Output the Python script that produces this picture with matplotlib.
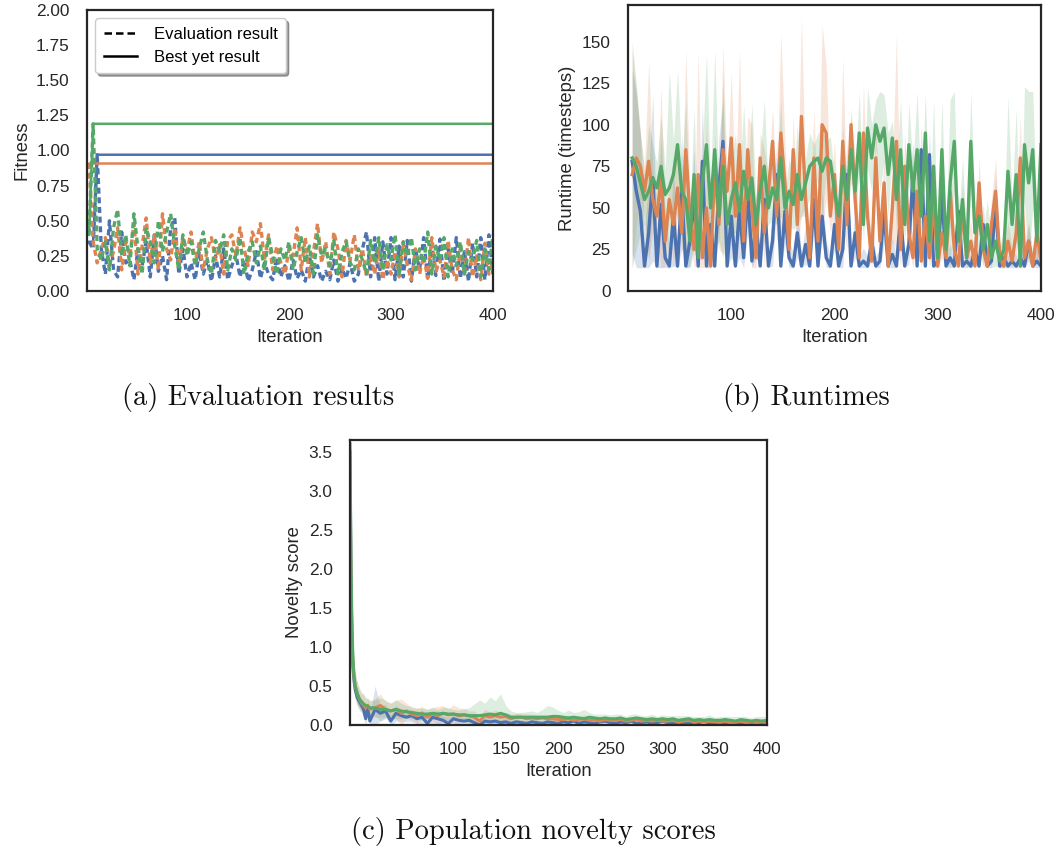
import matplotlib
matplotlib.use("Agg")
import matplotlib.pyplot as plt
from matplotlib.lines import Line2D
import numpy as np

plt.rcParams['font.family'] = ['Liberation Sans', 'DejaVu Sans']

BLUE, ORANGE, GREEN = '#4C72B0', '#DD8452', '#55A868'
INK = '#262626'

# ---- (a) evaluation results, every 4th iteration ----
eval_iters = np.arange(4, 401, 4)
blue_eval = [
    0.35, 0.30, 0.97, 0.30, 0.12, 0.50, 0.15, 0.10, 0.42, 0.20, 0.22, 0.08, 0.30,
    0.18, 0.35, 0.10, 0.40, 0.14, 0.25, 0.08, 0.45, 0.52, 0.12, 0.30, 0.10,
    0.20, 0.08, 0.28, 0.12, 0.22, 0.07, 0.25, 0.10, 0.30, 0.08, 0.18, 0.26, 0.10,
    0.22, 0.07, 0.15, 0.28, 0.09, 0.20, 0.12, 0.08, 0.24, 0.10, 0.18, 0.07,
    0.22, 0.09, 0.15, 0.07, 0.25, 0.10, 0.18, 0.07, 0.14, 0.08,
    0.22, 0.07, 0.16, 0.09, 0.20, 0.07, 0.12, 0.30, 0.42, 0.10,
    0.38, 0.07, 0.35, 0.12, 0.38, 0.08, 0.32, 0.10, 0.36, 0.07,
    0.30, 0.15, 0.38, 0.08, 0.33, 0.11, 0.37, 0.07, 0.30, 0.12,
    0.38, 0.09, 0.28, 0.07, 0.34, 0.10, 0.38, 0.08, 0.40, 0.12]
orange_eval = [
    0.91, 0.35, 0.20, 0.30, 0.38, 0.18, 0.28, 0.45, 0.15, 0.35, 0.25, 0.48, 0.12,
    0.32, 0.52, 0.20, 0.40, 0.15, 0.55, 0.30, 0.22, 0.45, 0.18, 0.38, 0.28,
    0.42, 0.20, 0.35, 0.15, 0.30, 0.38, 0.22, 0.33, 0.12, 0.36, 0.40, 0.25, 0.45,
    0.30, 0.18, 0.42, 0.35, 0.48, 0.22, 0.40, 0.15, 0.32, 0.20, 0.12, 0.30,
    0.25, 0.45, 0.15, 0.38, 0.10, 0.28, 0.48, 0.20, 0.35, 0.12,
    0.42, 0.30, 0.10, 0.36, 0.22, 0.40, 0.15, 0.30, 0.10, 0.25,
    0.12, 0.30, 0.08, 0.22, 0.12, 0.28, 0.10, 0.35, 0.18, 0.08,
    0.30, 0.12, 0.25, 0.09, 0.38, 0.14, 0.22, 0.10, 0.36, 0.15,
    0.08, 0.30, 0.12, 0.38, 0.10, 0.25, 0.08, 0.34, 0.12, 0.20]
green_eval = [
    0.40, 1.19, 0.30, 0.22, 0.35, 0.15, 0.45, 0.58, 0.25, 0.40, 0.18, 0.55, 0.30,
    0.12, 0.45, 0.35, 0.20, 0.50, 0.28, 0.42, 0.55, 0.32, 0.15, 0.40, 0.25,
    0.35, 0.18, 0.30, 0.42, 0.22, 0.12, 0.36, 0.28, 0.40, 0.15, 0.30, 0.22, 0.38,
    0.12, 0.28, 0.35, 0.20, 0.32, 0.15, 0.38, 0.25, 0.12, 0.30, 0.22, 0.35,
    0.15, 0.28, 0.38, 0.20, 0.32, 0.12, 0.40, 0.25, 0.30, 0.18,
    0.36, 0.12, 0.28, 0.35, 0.20, 0.15, 0.30, 0.22, 0.12, 0.36,
    0.20, 0.38, 0.15, 0.33, 0.22, 0.40, 0.12, 0.35, 0.25, 0.38,
    0.15, 0.30, 0.20, 0.42, 0.12, 0.32, 0.22, 0.38, 0.10, 0.30,
    0.18, 0.35, 0.12, 0.28, 0.22, 0.36, 0.10, 0.30, 0.15, 0.40]

# ---- (b) runtime means and CI half-widths, every 4th iteration ----
run_iters = np.arange(4, 401, 4)
blue_run = [
    78, 60, 48, 15, 35, 68, 15, 52, 20, 15, 45, 15, 60, 15, 30, 55, 15, 78, 15, 40, 15, 62, 90, 15, 45,
    15, 50, 20, 60, 18, 40, 15, 55, 15, 30, 70, 15, 48, 20, 15, 35, 15, 28, 15, 55, 15, 45, 20, 15, 40,
    15, 25, 70, 15, 35, 15, 18, 15, 30, 15, 18, 48, 15, 22, 15, 45, 15, 28, 70, 15,
    85, 15, 82, 15, 18, 60, 15, 20, 15, 48, 15, 18, 15, 25, 15, 40, 15, 18, 55, 15,
    20, 15, 18, 15, 20, 15, 30, 15, 18, 15]
orange_run = [
    70, 80, 75, 60, 78, 55, 45, 68, 30, 55, 40, 62, 35, 85, 45, 25, 70, 20, 50, 15, 75, 40, 85, 60, 92,
    45, 88, 30, 85, 50, 20, 80, 35, 60, 90, 45, 95, 65, 25, 85, 40, 105, 55, 20, 80, 30, 100, 95, 45, 70,
    25, 90, 40, 100, 55, 20, 95, 45, 18, 80, 30, 65, 15, 50, 90, 25, 75, 35, 20, 60,
    18, 45, 20, 55, 15, 35, 20, 60, 25, 15, 50, 20, 30, 15, 65, 25, 15, 40, 60, 20,
    15, 30, 18, 35, 80, 20, 30, 15, 35, 18]
green_run = [
    80, 75, 65, 55, 60, 68, 62, 75, 58, 62, 70, 88, 60, 55, 30, 70, 20, 65, 88, 50, 85, 45, 75, 40, 55,
    65, 48, 72, 55, 68, 40, 60, 75, 50, 62, 55, 80, 50, 60, 52, 70, 55, 65, 75, 78, 80, 72, 80, 78, 60,
    45, 75, 55, 85, 60, 95, 40, 98, 80, 100, 90, 98, 70, 92, 55, 85, 40, 88, 60, 85,
    45, 95, 30, 75, 20, 85, 25, 65, 90, 30, 55, 20, 90, 35, 45, 25, 40, 20, 30, 18,
    25, 72, 40, 70, 15, 88, 65, 85, 30, 88]
blue_ci = [
    55, 60, 45, 20, 35, 50, 15, 40, 25, 12, 30, 10, 35, 8, 20, 30, 8, 35, 10, 25, 10, 30, 25, 8, 25,
    8, 30, 12, 25, 10, 20, 8, 25, 8, 15, 20, 8, 20, 10, 8, 15, 8, 12, 6, 20, 8, 15, 10, 6, 15,
    6, 12, 20, 6, 15, 6, 8, 6, 12, 6, 8, 20, 6, 10, 6, 15, 6, 12, 20, 6,
    15, 6, 15, 6, 8, 15, 6, 8, 6, 12, 6, 8, 6, 10, 6, 12, 6, 8, 15, 6,
    8, 6, 8, 6, 8, 6, 10, 6, 8, 6]
orange_ci = [
    75, 40, 20, 15, 60, 20, 10, 55, 15, 10, 40, 15, 10, 60, 15, 10, 75, 10, 55, 10, 20, 15, 63, 10, 40,
    15, 57, 10, 20, 50, 10, 15, 50, 10, 20, 15, 60, 25, 10, 20, 15, 60, 10, 15, 30, 10, 60, 40, 10, 20,
    10, 50, 15, 10, 25, 10, 30, 10, 15, 20, 10, 15, 10, 20, 65, 10, 20, 10, 12, 25,
    10, 15, 10, 20, 10, 15, 10, 20, 10, 8, 15, 10, 12, 8, 15, 10, 8, 15, 20, 10,
    8, 12, 8, 15, 25, 10, 12, 8, 15, 8]
green_ci = [
    70, 50, 30, 15, 40, 20, 15, 30, 15, 70, 20, 45, 15, 60, 15, 40, 10, 20, 55, 15, 60, 15, 55, 10, 20,
    30, 15, 40, 10, 45, 15, 20, 40, 10, 20, 15, 35, 10, 20, 15, 30, 10, 15, 20, 10, 15, 25, 10, 15, 10,
    15, 25, 10, 20, 15, 25, 10, 25, 20, 15, 30, 20, 25, 10, 20, 30, 10, 25, 15, 35,
    10, 25, 10, 40, 10, 30, 10, 50, 30, 10, 25, 10, 30, 15, 20, 10, 15, 10, 15, 10,
    10, 45, 15, 40, 10, 35, 55, 35, 15, 35]

# ---- (c) population novelty ----
nov_iters = [1, 2, 3, 4, 5, 6, 8, 10, 12, 14, 16, 18, 20] + list(range(25, 401, 5))
blue_nov = [
    3.5, 1.8, 1.0, 0.7, 0.55, 0.45, 0.35, 0.3, 0.25, 0.2, 0.08, 0.22, 0.05,
    0.2, 0.15, 0.18, 0.05, 0.15, 0.12, 0.1, 0.12, 0.08, 0.1,
    0.02, 0.1, 0.08, 0.06, 0.02, 0.08, 0.06, 0.05, 0.06, 0.03,
    0.0, 0.05, 0.04, 0.05, 0.03, 0.04, 0.02, 0.04, 0.03, 0.02,
    0.04, 0.03, 0.02, 0.04, 0.03, 0.02,
    0.04, 0.03, 0.05, 0.02, 0.04, 0.03, 0.02, 0.04, 0.05, 0.03,
    0.02, 0.04, 0.03, 0.05, 0.02, 0.03, 0.04, 0.02, 0.03, 0.05,
    0.03, 0.02, 0.04, 0.03, 0.02, 0.04, 0.03, 0.05, 0.02, 0.03,
    0.04, 0.02, 0.03, 0.04, 0.02, 0.03, 0.02, 0.04, 0.03, 0.02]
orange_nov = [
    3.3, 1.7, 1.0, 0.75, 0.6, 0.5, 0.4, 0.33, 0.28, 0.25, 0.22, 0.25, 0.2,
    0.22, 0.25, 0.2, 0.18, 0.2, 0.15, 0.18, 0.14, 0.12, 0.15,
    0.1, 0.14, 0.12, 0.15, 0.13, 0.14, 0.12, 0.13, 0.12, 0.1,
    0.05, 0.12, 0.1, 0.12, 0.1, 0.11, 0.08, 0.1, 0.1, 0.08,
    0.09, 0.08, 0.09, 0.08, 0.08, 0.07,
    0.07, 0.08, 0.06, 0.07, 0.08, 0.06, 0.07, 0.05, 0.07, 0.06,
    0.06, 0.07, 0.05, 0.06, 0.07, 0.05, 0.06, 0.05, 0.06, 0.05,
    0.05, 0.06, 0.04, 0.05, 0.06, 0.04, 0.05, 0.04, 0.05, 0.04,
    0.04, 0.05, 0.03, 0.04, 0.05, 0.03, 0.04, 0.03, 0.04, 0.03]
green_nov = [
    3.6, 2.0, 1.2, 0.8, 0.6, 0.5, 0.4, 0.33, 0.3, 0.27, 0.25, 0.24, 0.22,
    0.22, 0.2, 0.2, 0.18, 0.2, 0.18, 0.17, 0.16, 0.15, 0.14,
    0.14, 0.15, 0.14, 0.15, 0.14, 0.14, 0.13, 0.13, 0.12, 0.12,
    0.12, 0.13, 0.14, 0.13, 0.15, 0.13, 0.1, 0.1, 0.1, 0.1,
    0.1, 0.1, 0.1, 0.1, 0.11, 0.11,
    0.1, 0.09, 0.1, 0.09, 0.08, 0.1, 0.09, 0.08, 0.09, 0.08,
    0.08, 0.09, 0.07, 0.08, 0.09, 0.08, 0.07, 0.08, 0.07, 0.08,
    0.07, 0.08, 0.06, 0.07, 0.08, 0.06, 0.07, 0.06, 0.07, 0.06,
    0.06, 0.07, 0.06, 0.05, 0.07, 0.06, 0.05, 0.06, 0.05, 0.06]
blue_nov_ci = [
    0.3, 0.25, 0.2, 0.15, 0.12, 0.1, 0.1, 0.08, 0.08, 0.1, 0.08, 0.1, 0.08,
    0.3, 0.1, 0.08, 0.08, 0.1, 0.08, 0.06, 0.08, 0.06, 0.1,
    0.06, 0.08, 0.1, 0.06, 0.08, 0.05, 0.06, 0.05, 0.06, 0.05,
    0.04, 0.05, 0.04, 0.05, 0.04, 0.05, 0.04, 0.04, 0.04, 0.03,
    0.04, 0.03, 0.04, 0.03, 0.04, 0.03,
    0.03, 0.02, 0.04, 0.03, 0.02, 0.03, 0.04, 0.02, 0.03, 0.03,
    0.02, 0.03, 0.04, 0.02, 0.03, 0.02, 0.03, 0.04, 0.02, 0.03,
    0.03, 0.02, 0.03, 0.04, 0.02, 0.03, 0.02, 0.03, 0.03, 0.02,
    0.03, 0.04, 0.02, 0.03, 0.02, 0.03, 0.03, 0.02, 0.03, 0.02]
orange_nov_ci = [
    0.35, 0.3, 0.25, 0.2, 0.18, 0.15, 0.15, 0.12, 0.12, 0.15, 0.12, 0.1, 0.1,
    0.12, 0.15, 0.1, 0.1, 0.12, 0.18, 0.1, 0.08, 0.1, 0.08,
    0.1, 0.08, 0.12, 0.1, 0.08, 0.12, 0.1, 0.08, 0.06, 0.08,
    0.06, 0.08, 0.06, 0.07, 0.06, 0.05, 0.06, 0.05, 0.05, 0.06,
    0.05, 0.05, 0.04, 0.05, 0.05, 0.05,
    0.04, 0.05, 0.03, 0.04, 0.05, 0.04, 0.03, 0.04, 0.05, 0.04,
    0.03, 0.04, 0.05, 0.03, 0.04, 0.03, 0.04, 0.05, 0.03, 0.04,
    0.04, 0.03, 0.04, 0.05, 0.03, 0.04, 0.03, 0.04, 0.04, 0.03,
    0.04, 0.05, 0.03, 0.04, 0.03, 0.04, 0.04, 0.03, 0.04, 0.03]
green_nov_ci = [
    0.4, 0.35, 0.3, 0.25, 0.2, 0.18, 0.15, 0.15, 0.12, 0.12, 0.1, 0.1, 0.1,
    0.1, 0.15, 0.12, 0.1, 0.12, 0.1, 0.08, 0.08, 0.06, 0.08,
    0.06, 0.08, 0.06, 0.08, 0.08, 0.06, 0.06, 0.08, 0.1, 0.15,
    0.2, 0.15, 0.22, 0.18, 0.25, 0.12, 0.08, 0.06, 0.06, 0.07,
    0.08, 0.06, 0.1, 0.15, 0.12, 0.08,
    0.06, 0.1, 0.06, 0.08, 0.12, 0.06, 0.05, 0.06, 0.05, 0.05,
    0.06, 0.05, 0.04, 0.06, 0.05, 0.04, 0.05, 0.06, 0.04, 0.05,
    0.05, 0.04, 0.06, 0.05, 0.04, 0.05, 0.04, 0.05, 0.06, 0.04,
    0.05, 0.04, 0.05, 0.06, 0.04, 0.05, 0.04, 0.05, 0.06, 0.05]

colors = [BLUE, ORANGE, GREEN]

W, H = 1061, 850
fig = plt.figure(figsize=(W / 100, H / 100), dpi=100)


def px_axes(left, top, right, bottom):
    ax = fig.add_axes([left / W, 1 - bottom / H, (right - left) / W, (bottom - top) / H])
    for s in ax.spines.values():
        s.set_color(INK)
        s.set_linewidth(1.6)
    ax.tick_params(length=0, labelsize=12.4, labelcolor=INK, pad=12.5)
    return ax


def band(ax, x, mean, ci, color, floor, lw=2.2):
    mean = np.asarray(mean, float)
    ci = np.asarray(ci, float)
    ax.fill_between(x, np.maximum(mean - ci, floor), mean + ci,
                    color=color, alpha=0.2, lw=0)
    ax.plot(x, mean, color=color, lw=lw)


# (a)
ax = px_axes(87, 10, 493, 291)
for vals, c in zip([blue_eval, orange_eval, green_eval], colors):
    ax.plot(eval_iters, vals, color=c, lw=2.4, ls=(0, (1.8, 1.1)))
    ax.plot(eval_iters, np.maximum.accumulate(vals), color=c, lw=1.8)
ax.set_xlim(2, 400)
ax.set_ylim(0, 2)
ax.set_yticks(np.arange(0, 2.01, 0.25))
ax.set_yticklabels([f'{v:.2f}' for v in np.arange(0, 2.01, 0.25)])
ax.set_xticks([100, 200, 300, 400])
ax.set_xlabel('Iteration', fontsize=13.3, color=INK)
ax.set_ylabel('Fitness', fontsize=13.3, color=INK)
handles = [Line2D([], [], color='k', lw=1.8, ls=(0, (3, 1.6))),
           Line2D([], [], color='k', lw=1.8)]
leg = ax.legend(handles, ['Evaluation result', 'Best yet result'], loc='upper left',
                fontsize=12, shadow=True, fancybox=True, framealpha=1,
                handlelength=2.0, handletextpad=1.0, borderpad=0.5,
                bbox_to_anchor=(0.0, 1.0))
leg.get_frame().set_edgecolor('#cccccc')

# (b)
ax = px_axes(628, 5, 1041, 291)
for m, ci, c in zip([blue_run, orange_run, green_run], [blue_ci, orange_ci, green_ci], colors):
    band(ax, run_iters, m, ci, c, 14, lw=2.4)
ax.set_xlim(0, 400)
ax.set_ylim(0, 172)
ax.set_yticks([0, 25, 50, 75, 100, 125, 150])
ax.set_xticks([100, 200, 300, 400])
ax.set_xlabel('Iteration', fontsize=13.3, color=INK)
ax.set_ylabel('Runtime (timesteps)', fontsize=13.3, color=INK)

# (c)
ax = px_axes(350, 440, 767, 725)
for m, ci, c in zip([blue_nov, orange_nov, green_nov],
                    [blue_nov_ci, orange_nov_ci, green_nov_ci], colors):
    band(ax, nov_iters, m, ci, c, 0)
ax.set_xlim(1, 400)
ax.set_ylim(0, 3.65)
ax.set_yticks(np.arange(0, 3.51, 0.5))
ax.set_xticks([50, 100, 150, 200, 250, 300, 350, 400])
ax.set_xlabel('Iteration', fontsize=13.3, color=INK)
ax.set_ylabel('Novelty score', fontsize=13.3, color=INK)

# captions
cap = dict(family='cmr10', fontsize=20.5, ha='center', va='center', color='#111111')
fig.text(258 / W, 1 - 398 / H, '(a) Evaluation results', **cap)
fig.text(806 / W, 1 - 398 / H, '(b) Runtimes', **cap)
fig.text(533 / W, 1 - 832 / H, '(c) Population novelty scores', **cap)

fig.savefig('out.png', dpi=100, facecolor='white')
